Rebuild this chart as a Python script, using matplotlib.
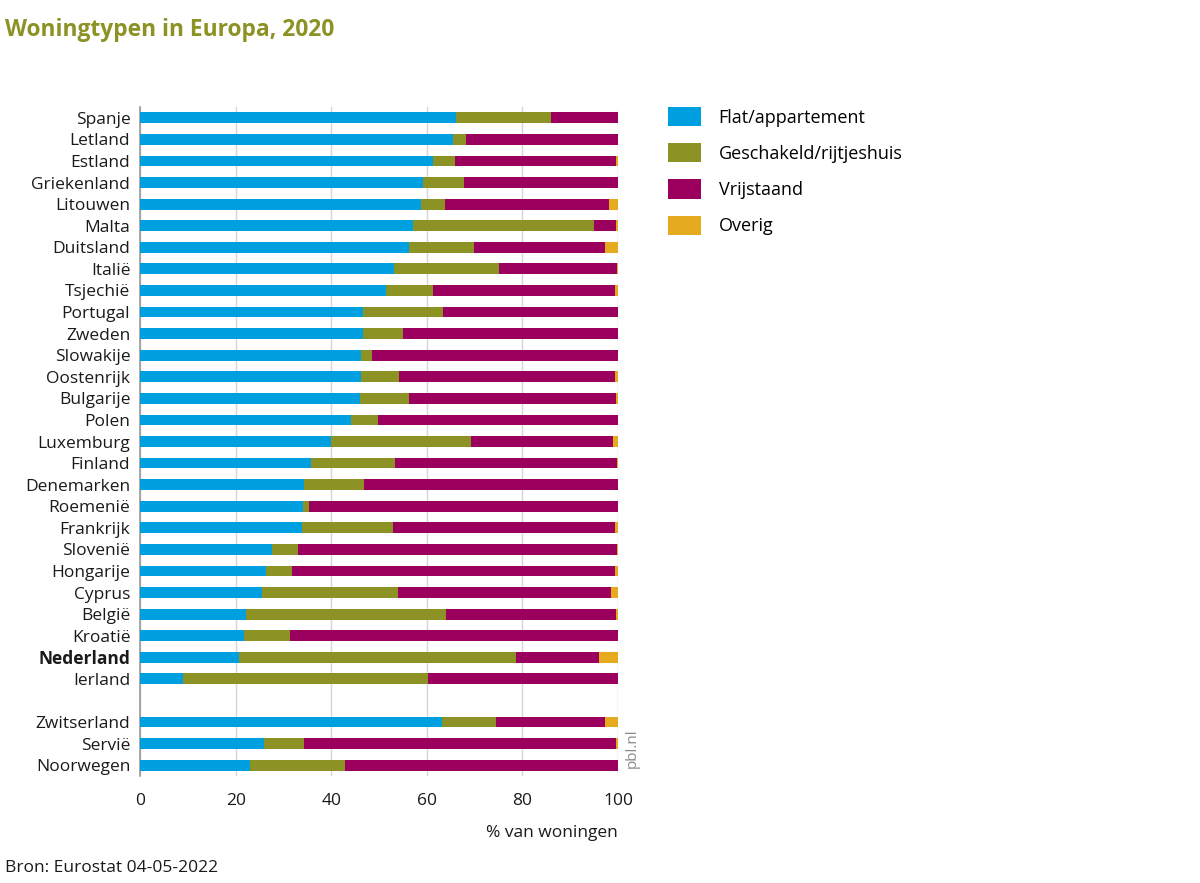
import numpy as np
import matplotlib
matplotlib.use("Agg")
import matplotlib.pyplot as plt
from matplotlib.patches import Patch

plt.rcParams["font.family"] = ["Open Sans", "DejaVu Sans"]

# ==========================================================
# Data (% van woningen)
# ==========================================================
landen = ["Spanje", "Letland", "Estland", "Griekenland", "Litouwen", "Malta",
          "Duitsland", "Italië", "Tsjechië", "Portugal", "Zweden", "Slowakije",
          "Oostenrijk", "Bulgarije", "Polen", "Luxemburg", "Finland",
          "Denemarken", "Roemenië", "Frankrijk", "Slovenië", "Hongarije",
          "Cyprus", "België", "Kroatië", "Nederland", "Ierland",
          "Zwitserland", "Servië", "Noorwegen"]

flat = [66.1, 65.5, 61.3, 59.2, 58.8, 57.2, 56.2, 53.1, 51.4, 46.7, 46.7, 46.3,
        46.3, 46.0, 44.2, 40.0, 35.7, 34.3, 34.1, 33.9, 27.6, 26.4,
        25.5, 22.2, 21.7, 20.7, 9.0,
        63.1, 25.9, 23.0]
geschakeld = [19.9, 2.7, 4.5, 8.5, 5.1, 37.7, 13.6, 22.1, 9.9, 16.7, 8.4, 2.2,
              7.9, 10.3, 5.5, 29.3, 17.7, 12.6, 1.3, 19.1, 5.5, 5.3,
              28.5, 41.8, 9.6, 58.0, 51.2,
              11.4, 8.4, 19.9]
vrijstaand = [14.0, 31.8, 33.8, 32.3, 34.3, 4.7, 27.4, 24.5, 38.0, 36.6, 44.9, 51.5,
              45.2, 43.2, 50.3, 29.7, 46.3, 53.1, 64.6, 46.3, 66.7, 67.7,
              44.6, 35.6, 68.7, 17.3, 39.7,
              22.7, 65.2, 57.0]
overig = [0.0, 0.0, 0.4, 0.0, 1.8, 0.4, 2.8, 0.3, 0.7, 0.0, 0.0, 0.0,
          0.6, 0.5, 0.0, 1.0, 0.3, 0.0, 0.0, 0.7, 0.2, 0.6,
          1.4, 0.4, 0.0, 4.0, 0.1,
          2.8, 0.5, 0.1]

reeksen = ["Flat/appartement", "Geschakeld/rijtjeshuis", "Vrijstaand", "Overig"]
kleuren = ["#009fe0", "#8c9223", "#9b005f", "#e6aa1e"]

# EU landen 0..26, lege rij, dan de drie niet-EU landen
posities = list(range(27)) + [28, 29, 30]

# ==========================================================
# Figuur
# ==========================================================
fig = plt.figure(figsize=(12, 8.83), dpi=100)
ax = fig.add_axes([0.1167, 0.1212, 0.3983, 0.7576])

links = np.zeros(len(landen))
for waarden, kleur in zip([flat, geschakeld, vrijstaand, overig], kleuren):
    ax.barh(posities, waarden, left=links, height=0.5, color=kleur,
            edgecolor="none", zorder=3)
    links = links + np.array(waarden)

ax.set_xlim(0, 100)
ax.set_ylim(30.5, -0.5)
ax.set_xticks([0, 20, 40, 60, 80, 100])
ax.set_xticklabels(["0", "20", "40", "60", "80", "100"])
ax.set_yticks(posities)
ax.set_yticklabels(landen)
for lbl in ax.get_yticklabels():
    if lbl.get_text() == "Nederland":
        lbl.set_fontweight("bold")

ax.tick_params(axis="both", length=0, labelsize=12.5, colors="#1a1a1a")
ax.tick_params(axis="x", pad=12)
ax.tick_params(axis="y", pad=7)
ax.grid(axis="x", color="#d5d5d5", linewidth=1, zorder=0)
for kant in ["top", "right", "bottom"]:
    ax.spines[kant].set_visible(False)
ax.spines["left"].set_color("#9a9a9a")
ax.spines["left"].set_linewidth(1.2)

ax.set_xlabel("% van woningen", fontsize=12.5, color="#1a1a1a",
              loc="right", labelpad=12)

# legenda
handles = [Patch(facecolor=k, edgecolor="none") for k in kleuren]
fig.legend(handles, reeksen, loc="upper left",
           bbox_to_anchor=(668 / 1200, 1 - 107 / 883), frameon=False,
           fontsize=13, handlelength=1.8, handleheight=1.25,
           handletextpad=1.0, labelspacing=0.92, borderaxespad=0,
           borderpad=0)

fig.text(0.004, 1 - 30 / 883, "Woningtypen in Europa, 2020", fontsize=16.4,
         fontweight="bold", color="#8c9223", va="center", ha="left")
fig.text(0.004, 1 - 868 / 883, "Bron: Eurostat 04-05-2022", fontsize=12.5,
         color="#1a1a1a", va="center", ha="left")
fig.text(632 / 1200, 1 - 748 / 883, "pbl.nl", fontsize=11, color="#8a8a8a",
         rotation=90, va="center", ha="center")

fig.savefig("out.png", dpi=100)
